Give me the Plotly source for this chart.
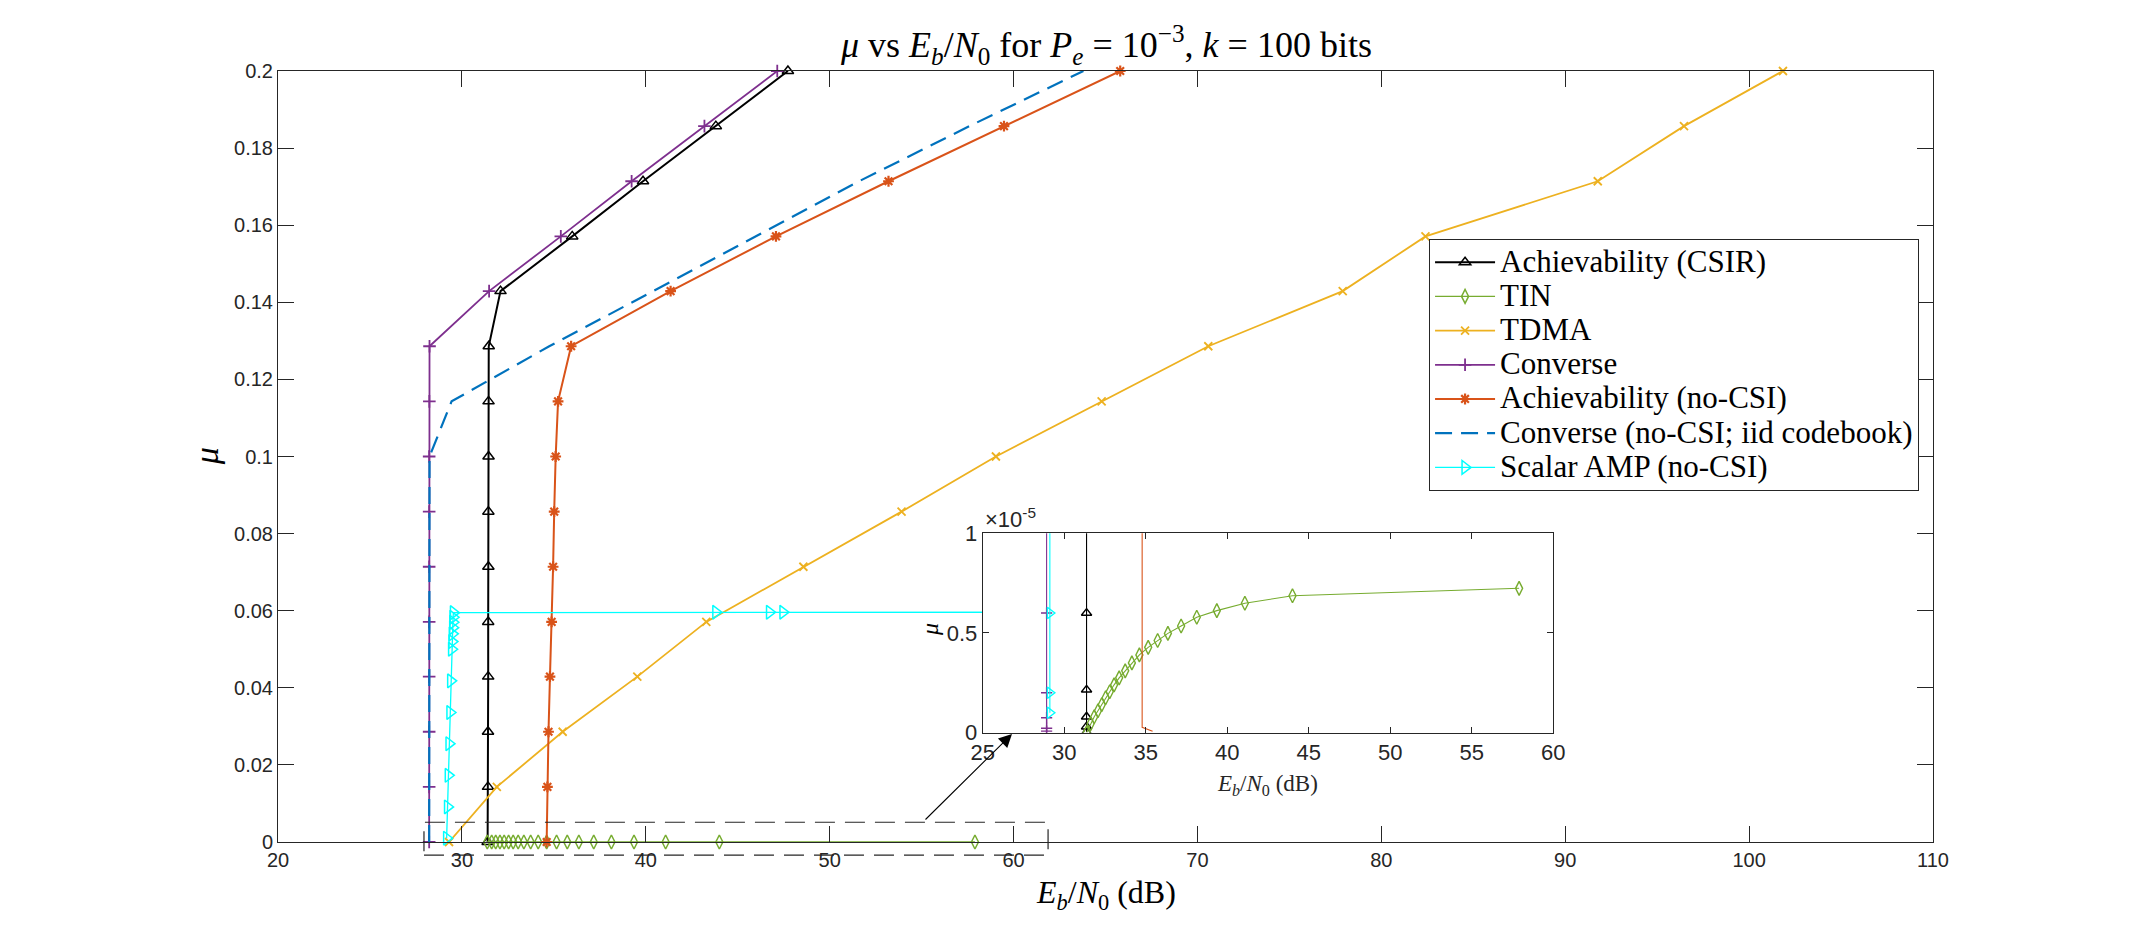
import plotly.graph_objects as go

# ---------------- data ----------------
MU = [0.0, 0.0143, 0.0286, 0.0429, 0.0571, 0.0714, 0.0857, 0.1, 0.1143,
      0.1286, 0.1429, 0.1571, 0.1714, 0.1857, 0.2]

csir_x = [31.40, 31.42, 31.42, 31.43, 31.43, 31.44, 31.44, 31.45, 31.45,
          31.46, 32.10, 36.00, 39.85, 43.81, 47.73]
conv_x = [28.22, 28.22, 28.22, 28.22, 28.22, 28.22, 28.22, 28.22, 28.23,
          28.24, 31.48, 35.38, 39.23, 43.19, 47.15]
nocsi_x = [34.61, 34.65, 34.71, 34.79, 34.88, 34.96, 35.02, 35.10, 35.23,
           35.94, 41.35, 47.08, 53.20, 59.48, 65.80]
tdma_x = [29.30, 31.90, 35.48, 39.54, 43.29, 48.57, 53.91, 59.04, 64.79,
          70.59, 77.90, 82.40, 91.77, 96.46, 101.84]
iid_x = [28.22, 28.22, 28.22, 28.22, 28.22, 28.22, 28.22, 28.24, 29.44,
         34.75, 40.40, 46.00, 51.60, 57.60, 63.80]

tin_x = [31.38, 31.62, 31.84, 32.07, 32.30, 32.54, 32.79, 33.06, 33.37, 33.74,
         34.15, 34.61, 35.15, 35.73, 36.36, 37.17, 38.13, 39.36, 41.08, 44.00, 57.90]
tin_mu = [0.05e-7, 0.45e-6, 0.80e-6, 1.10e-6, 1.40e-6, 1.75e-6, 2.05e-6, 2.40e-6,
          2.75e-6, 3.10e-6, 3.50e-6, 3.90e-6, 4.28e-6, 4.62e-6, 4.98e-6, 5.35e-6,
          5.79e-6, 6.12e-6, 6.49e-6, 6.87e-6, 7.24e-6]

amp_x = [29.17, 29.22, 29.26, 29.30, 29.35, 29.39, 29.44, 29.46, 29.48, 29.50,
         29.51, 29.52, 29.54, 43.81, 46.73, 47.46, 62.00]
amp_mu = [0.0010, 0.0091, 0.0173, 0.0255, 0.0336, 0.0418, 0.0500, 0.0520, 0.0540,
          0.0556, 0.0570, 0.0583, 0.0595, 0.0596, 0.0596, 0.0596, 0.0596]

# inset (zoom on tiny mu)
in_conv_x = [28.92, 28.92, 28.92, 28.92, 28.92, 28.22]
in_conv_mu = [0.8e-7, 2.2e-7, 7.5e-7, 2.0e-6, 6.0e-6, 0.0143]
in_csir_x = [31.37, 31.37, 31.37, 31.37, 31.37, 31.42]
in_csir_mu = [0.3e-7, 3.0e-7, 8.0e-7, 2.15e-6, 6.0e-6, 0.0143]
in_amp_x = [29.12, 29.12, 29.12, 29.17]
in_amp_mu = [1.0e-6, 2.0e-6, 6.0e-6, 0.0010]
in_nocsi_x = [35.42, 34.78, 34.74]
in_nocsi_mu = [0.7e-7, 2.7e-7, 0.0143]

x_ticks = [20, 30, 40, 50, 60, 70, 80, 90, 100, 110]
in_x_ticks = [25, 30, 35, 40, 45, 50, 55, 60]
in_y_ticks = [0, 5e-6, 1e-5]
in_y_text = ["0", "0.5", "1"]

# ---------------- styling ----------------
C_BLACK = "#000000"
C_TIN = "#77AC30"
C_TDMA = "#EDB120"
C_CONV = "#7E2F8E"
C_NOCSI = "#D95319"
C_IID = "#0072BD"
C_AMP = "#00FFFF"
AX = "#262626"
SERIF = "Liberation Serif, Times New Roman, serif"
SANS = "Liberation Sans, Arial, Helvetica, sans-serif"

def leg(name):
    return '<span style="font-size:31px">' + name + '</span>'

fig = go.Figure()

def main_trace(x, y, name, color, symbol, size, lw, mlw=1.5, dash="solid", mode="lines+markers"):
    fig.add_trace(go.Scatter(
        x=x, y=y, name=leg(name), mode=mode, cliponaxis=False,
        line=dict(color=color, width=lw, dash=dash),
        marker=dict(symbol=symbol, size=size, color=color,
                    line=dict(color=color, width=mlw)),
        xaxis="x", yaxis="y"))

main_trace(csir_x, MU, "Achievability (CSIR)", C_BLACK, "triangle-up-open", 10, 2.0)
main_trace(tin_x, tin_mu, "TIN", C_TIN, "diamond-tall-open", 10, 1.3)
main_trace(tdma_x, MU, "TDMA", C_TDMA, "x-thin-open", 8, 1.8, mlw=1.8)
main_trace(conv_x, MU, "Converse", C_CONV, "cross-thin-open", 9, 1.8, mlw=1.8)
main_trace(nocsi_x, MU, "Achievability (no-CSI)", C_NOCSI, "asterisk-open", 9, 2.0, mlw=2.2)
main_trace(iid_x, MU, "Converse (no-CSI; iid codebook)", C_IID, "circle", 1, 2.2,
           dash="17px,9px", mode="lines")
main_trace(amp_x, amp_mu, "Scalar AMP (no-CSI)", C_AMP, "triangle-right-open", 12, 1.3)

def inset_trace(x, y, color, symbol, size, mode="lines+markers"):
    fig.add_trace(go.Scatter(
        x=x, y=y, mode=mode, showlegend=False,
        line=dict(color=color, width=1.1),
        marker=dict(symbol=symbol, size=size, color=color,
                    line=dict(color=color, width=1.4)),
        xaxis="x2", yaxis="y2"))

inset_trace(in_csir_x, in_csir_mu, C_BLACK, "triangle-up-open", 9)
inset_trace(tin_x, tin_mu, C_TIN, "diamond-tall-open", 10)
inset_trace(in_conv_x, in_conv_mu, C_CONV, "cross-thin-open", 8)
inset_trace(in_nocsi_x, in_nocsi_mu, C_NOCSI, "circle", 1, mode="lines")
inset_trace(in_amp_x, in_amp_mu, C_AMP, "triangle-right-open", 10)

def axis_common(fs):
    return dict(showline=True, linecolor=AX, linewidth=1, mirror="allticks",
                ticks="inside", tickcolor=AX, tickwidth=1, showgrid=False,
                zeroline=False, tickfont=dict(family=SANS, size=fs, color=AX))

fig.update_layout(
    width=2136, height=946,
    margin=dict(l=278, r=203, t=71, b=104),
    paper_bgcolor="white", plot_bgcolor="white",
    xaxis=dict(range=[20, 110], tickvals=x_ticks, ticklen=16, domain=[0, 1],
               anchor="y", **axis_common(20)),
    yaxis=dict(range=[0, 0.2], dtick=0.02, tick0=0, ticklen=16, domain=[0, 1],
               anchor="x", **axis_common(20)),
    xaxis2=dict(range=[25, 60], tickvals=in_x_ticks, ticklen=6,
                domain=[0.4258, 0.7706], anchor="y2", **axis_common(22)),
    yaxis2=dict(range=[0, 1e-5], tickvals=in_y_ticks, ticktext=in_y_text, ticklen=6,
                domain=[0.1418, 0.4004], anchor="x2", **axis_common(22)),
    showlegend=True,
    legend=dict(x=0.6955, y=0.782, xanchor="left", yanchor="top",
                bgcolor="white", bordercolor=AX, borderwidth=1,
                font=dict(family=SERIF, size=24, color="black"),
                tracegroupgap=0, itemwidth=60),
)

ann = []
ann.append(dict(xref="paper", yref="paper", x=0.5, y=1.0337, xanchor="center",
                yanchor="middle", showarrow=False,
                text="<i>μ</i> vs <i>E</i><sub><i>b</i></sub>/<i>N</i><sub>0</sub> for "
                     "<i>P</i><sub><i>e</i></sub> = 10<sup>−3</sup>, <i>k</i> = 100 bits",
                font=dict(family=SERIF, size=36, color="black")))
ann.append(dict(xref="paper", yref="paper", x=0.5, y=-0.068, xanchor="center",
                yanchor="middle", showarrow=False,
                text="<i>E</i><sub><i>b</i></sub>/<i>N</i><sub>0</sub> (dB)",
                font=dict(family=SERIF, size=32, color="black")))
ann.append(dict(xref="paper", yref="paper", x=-0.043, y=0.5, xanchor="center",
                yanchor="middle", showarrow=False, textangle=-90, text="<i>μ</i>",
                font=dict(family=SERIF, size=34, color="black")))
# inset labels
ann.append(dict(xref="paper", yref="paper", x=0.598, y=0.0745, xanchor="center",
                yanchor="middle", showarrow=False,
                text="<i>E</i><sub><i>b</i></sub>/<i>N</i><sub>0</sub> (dB)",
                font=dict(family=SERIF, size=23, color="#262626")))
ann.append(dict(xref="paper", yref="paper", x=0.394, y=0.275, xanchor="center",
                yanchor="middle", showarrow=False, textangle=-90, text="<i>μ</i>",
                font=dict(family=SERIF, size=24, color="black")))
ann.append(dict(xref="paper", yref="paper", x=0.4262, y=0.3995, xanchor="left",
                yanchor="bottom", showarrow=False, text="×10<sup>-5</sup>",
                font=dict(family=SANS, size=22, color=AX)))
# arrow from the dashed box to the inset
ann.append(dict(xref="paper", yref="paper", x=0.4435, y=0.1401, ax=-88, ay=87,
                axref="pixel", ayref="pixel", text="", showarrow=True,
                arrowhead=2, arrowsize=2.4, arrowwidth=1.1, arrowcolor="black",
                standoff=0))
fig.update_layout(annotations=ann)

fig.add_shape(type="rect", xref="paper", yref="paper",
              x0=0.0882, x1=0.4653, y0=-0.0169, y1=0.0256,
              line=dict(color=AX, width=1.2, dash="20px,10px"), layer="above")

fig.write_html("out.html")
